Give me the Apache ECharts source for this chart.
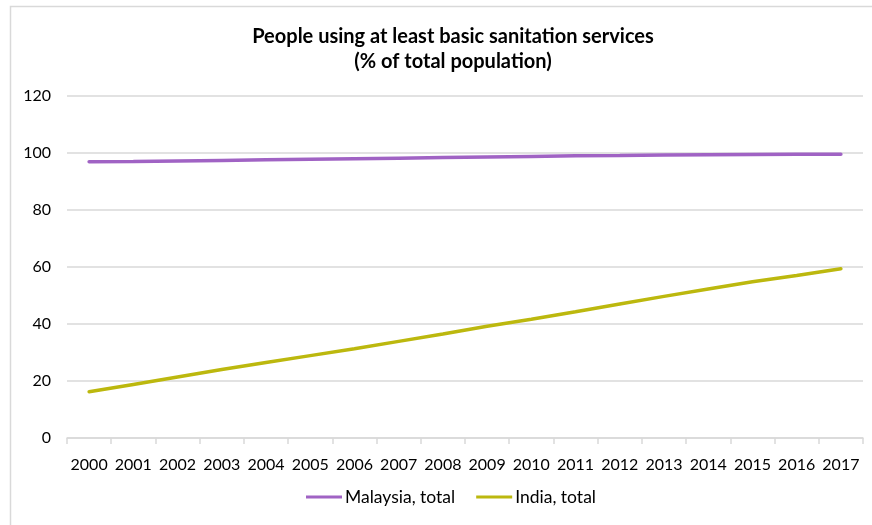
<!DOCTYPE html>
<html>
<head>
<meta charset="utf-8">
<script src="https://cdn.jsdelivr.net/npm/echarts@6/dist/echarts.min.js"></script>
<style>
  html, body { margin: 0; padding: 0; background: #ffffff; }
  #chart { width: 872px; height: 525px; }
</style>
</head>
<body>
<div id="chart"></div>
<script>
// Share of population using at least basic sanitation services (%)
const years = ['2000', '2001', '2002', '2003', '2004', '2005', '2006', '2007', '2008',
               '2009', '2010', '2011', '2012', '2013', '2014', '2015', '2016', '2017'];
const malaysia = [96.9, 97.0, 97.2, 97.4, 97.6, 97.8, 98.0, 98.2, 98.4,
                  98.6, 98.8, 99.0, 99.1, 99.3, 99.4, 99.5, 99.6, 99.6];
const india = [16.2, 18.8, 21.4, 24.0, 26.5, 28.9, 31.3, 33.9, 36.5,
               39.2, 41.7, 44.3, 47.0, 49.7, 52.3, 54.8, 57.0, 59.4];
const seriesNames = ['Malaysia, total', 'India, total'];
const yTicks = { min: 0, max: 120, step: 20 };

const FONT = 'Lato, "Open Sans", sans-serif';
const chart = echarts.init(document.getElementById('chart'), null, { renderer: 'canvas' });

chart.setOption({
  backgroundColor: '#ffffff',
  animation: false,
  graphic: [{
    type: 'rect',
    shape: { x: 10.5, y: 6.5, width: 880, height: 540 },
    style: { fill: 'none', stroke: '#d9d9d9', lineWidth: 1.5 },
    silent: true
  }],
  title: {
    text: 'People using at least basic sanitation services\n(% of total population)',
    left: 448,
    top: 19,
    textAlign: 'center',
    textStyle: {
      fontFamily: FONT,
      fontSize: 20,
      fontWeight: 'bold',
      color: '#000000',
      lineHeight: 25
    }
  },
  legend: {
    data: seriesNames,
    bottom: 14,
    left: 301,
    icon: 'rect',
    itemWidth: 36,
    itemHeight: 3,
    itemGap: 21,
    textStyle: { fontFamily: FONT, fontSize: 17.5, color: '#000000', padding: [0, 0, 0, -2] }
  },
  grid: { left: 67, right: 9, top: 96, bottom: 87, containLabel: false },
  xAxis: {
    type: 'category',
    data: years,
    boundaryGap: true,
    axisLine: { lineStyle: { color: '#d9d9d9', width: 1.5 } },
    axisTick: { show: true, alignWithLabel: false, length: 6, lineStyle: { color: '#d9d9d9', width: 1.5 } },
    axisLabel: { fontFamily: FONT, fontSize: 16, color: '#000000', margin: 19, interval: 0 }
  },
  yAxis: {
    type: 'value',
    min: yTicks.min,
    max: yTicks.max,
    interval: yTicks.step,
    axisLine: { show: false },
    axisTick: { show: false },
    axisLabel: { fontFamily: FONT, fontSize: 16, color: '#000000', margin: 16 },
    splitLine: { lineStyle: { color: '#d9d9d9', width: 1.5 } }
  },
  series: [
    {
      name: seriesNames[0],
      type: 'line',
      data: malaysia,
      symbol: 'none',
      lineStyle: { color: '#a063c4', width: 3.5, cap: 'round' },
      itemStyle: { color: '#a063c4' }
    },
    {
      name: seriesNames[1],
      type: 'line',
      data: india,
      symbol: 'none',
      lineStyle: { color: '#bcb80e', width: 3.5, cap: 'round' },
      itemStyle: { color: '#bcb80e' }
    }
  ]
});
</script>
</body>
</html>
